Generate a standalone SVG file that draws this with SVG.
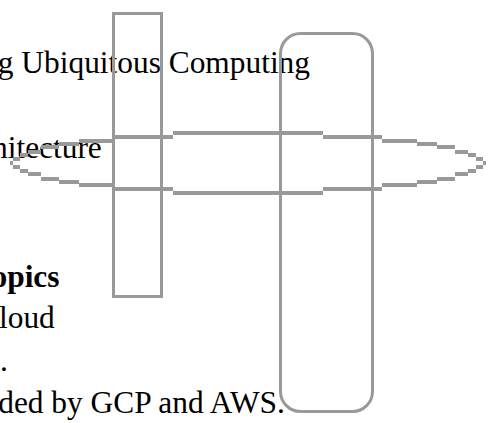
<svg xmlns="http://www.w3.org/2000/svg" width="491" height="423" viewBox="0 0 491 423">
<style>
.t{font-family:"Liberation Serif","Times New Roman",serif;font-size:31.4px;fill:#000}
.b{font-weight:bold}
.s{fill:none;stroke:#999;stroke-width:3}
.e{fill:none;stroke:#999;stroke-width:3.3;shape-rendering:crispEdges}
</style>
<rect width="491" height="423" fill="#fff"/>
<g id="text">
<text class="t" x="-2.2" y="72.5">g Ubiquitous Computing</text>
<text class="t" x="-8" y="158">hitecture</text>
<text class="t b" x="-8.5" y="286.5">opics</text>
<text class="t" x="-1" y="328">loud</text>
<text class="t" x="0" y="371">.</text>
<text class="t" x="-1.8" y="413">ded by GCP and AWS.</text>
</g>
<g id="node-rect"><rect class="s" x="113.5" y="13.5" width="48" height="283"/></g>
<g id="node-rounded"><rect class="s" x="280.5" y="33.5" width="92" height="378" rx="20"/></g>
<g id="node-ellipse"><path class="e" d="M10 163H13M13 159H20M20 155H28M28 152H41M41 147H59M59 144H79M79 141H114M114 137H173M173 133H323M323 137H382M382 141H417M417 144H437M437 147H455M455 152H468M468 155H476M476 159H483M483 163H486M13 167H20M20 171H28M28 174H41M41 179H59M59 182H79M79 185H114M114 189H173M173 193H323M323 189H382M382 185H417M417 182H437M437 179H455M455 174H468M468 171H476M476 167H483"/></g>
<g id="connectors"></g>
</svg>
